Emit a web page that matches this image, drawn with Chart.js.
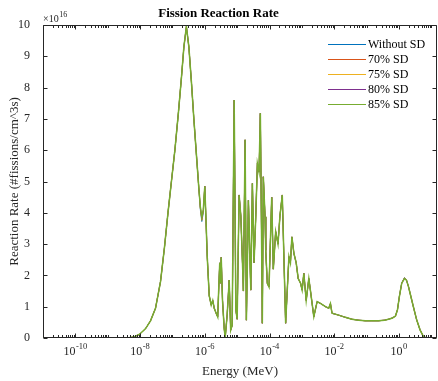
<!DOCTYPE html>
<html><head><meta charset="utf-8">
<script src="https://cdn.jsdelivr.net/npm/chart.js@4.4.0/dist/chart.umd.min.js"></script>
<style>html,body{margin:0;padding:0;background:#fff;overflow:hidden}</style>
</head><body>
<canvas id="c" width="438" height="381"></canvas>
<script>
// Energy grid (MeV)
const energy = [1e-11,5.7e-10,4.1e-9,6.3e-9,9.7e-9,1.48e-8,2.1e-8,3.0e-8,4.28e-8,5.68e-8,7.28e-8,9.3e-8,1.19e-7,1.53e-7,1.89e-7,2.26e-7,2.70e-7,3.22e-7,3.85e-7,4.59e-7,5.47e-7,6.53e-7,7.28e-7,8.09e-7,9.0e-7,1.0e-6,1.07e-6,1.19e-6,1.37e-6,1.58e-6,1.76e-6,1.96e-6,2.26e-6,2.51e-6,2.70e-6,2.90e-6,3.06e-6,3.22e-6,3.53e-6,3.98e-6,4.28e-6,4.92e-6,5.68e-6,6.31e-6,7.01e-6,8.09e-6,9.12e-6,1.0e-5,1.15e-5,1.30e-5,1.46e-5,1.56e-5,1.76e-5,1.93e-5,2.23e-5,2.64e-5,2.96e-5,3.33e-5,3.76e-5,4.22e-5,4.75e-5,5.21e-5,5.6e-5,6.0e-5,6.44e-5,7.28e-5,7.64e-5,8.55e-5,9.66e-5,1.17e-4,1.31e-4,1.55e-4,1.83e-4,2.1e-4,2.48e-4,3.15e-4,3.98e-4,4.43e-4,4.92e-4,5.68e-4,6.68e-4,7.69e-4,9.12e-4,1.02e-3,1.15e-3,1.36e-3,1.64e-3,1.85e-3,2.34e-3,2.96e-3,3.85e-3,5.36e-3,6.78e-3,7.64e-3,8.55e-3,1.37e-2,2.21e-2,3.53e-2,5.68e-2,9.12e-2,0.143,0.234,0.358,0.475,0.631,0.78,0.9,1.04,1.22,1.48,1.70,1.96,2.21,2.79,3.53,4.49,5.68,7.0,15];
// Reaction rate (x 1e16 fissions/cm^3 s)
const withoutSD = [0,0,0,0.03,0.12,0.3,0.55,0.95,1.8,2.9,4.0,5.0,6.0,7.2,8.3,9.3,9.95,9.3,8.2,7.0,5.9,4.8,4.1,3.72,4.0,4.85,4.0,2.6,1.35,1.05,1.2,0.95,0.78,0.67,1.6,2.4,1.75,2.58,1.2,0.3,0.02,0.75,1.85,0.25,0.4,7.6,0.9,0.6,4.57,3.9,2.4,1.5,6.33,0.57,4.4,1.53,4.94,2.4,3.87,5.58,5.3,7.18,3.93,0.47,5.15,3.87,2.8,1.75,1.63,4.5,2.2,3.4,3.0,3.9,4.57,0.47,2.6,2.4,3.23,2.7,2.4,1.9,1.75,1.53,2.07,1.2,1.9,1.5,0.68,1.16,1.1,1.0,0.95,1.1,0.79,0.73,0.66,0.6,0.57,0.55,0.55,0.55,0.57,0.6,0.64,0.7,0.9,1.35,1.76,1.93,1.87,1.66,1.43,1.0,0.58,0.26,0.05,0,0];
const sd70 = [0,0,0,0.03,0.12,0.3,0.55,0.95,1.8,2.9,4.0,5.0,6.0,7.2,8.3,9.3,9.95,9.3,8.2,7.0,5.9,4.8,4.15,3.76,4.05,4.85,4.0,2.6,1.35,1.05,1.2,0.95,0.78,0.67,1.6,2.4,1.75,2.58,1.2,0.3,0.02,0.75,1.85,0.25,0.4,7.6,0.9,0.6,4.57,3.9,2.4,1.5,6.33,0.57,4.4,1.53,4.94,2.4,3.87,5.58,5.3,7.18,3.93,0.47,5.15,3.87,2.8,1.75,1.63,4.5,2.2,3.4,3.0,3.9,4.57,0.47,2.6,2.4,3.23,2.7,2.4,1.9,1.75,1.53,2.07,1.2,1.9,1.5,0.68,1.16,1.1,1.0,0.95,1.1,0.79,0.73,0.66,0.6,0.57,0.55,0.55,0.55,0.57,0.6,0.64,0.7,0.9,1.35,1.75,1.92,1.86,1.65,1.43,1.0,0.58,0.26,0.05,0,0];
const sd75 = [0,0,0,0.03,0.12,0.3,0.55,0.95,1.8,2.9,4.0,5.0,6.0,7.2,8.3,9.3,9.95,9.3,8.2,7.0,5.9,4.8,4.17,3.79,4.07,4.85,4.0,2.6,1.35,1.05,1.2,0.95,0.78,0.67,1.6,2.4,1.75,2.58,1.2,0.3,0.02,0.75,1.85,0.25,0.4,7.6,0.9,0.6,4.57,3.9,2.4,1.5,6.33,0.57,4.4,1.53,4.94,2.4,3.87,5.58,5.3,7.18,3.93,0.47,5.15,3.87,2.8,1.75,1.63,4.5,2.2,3.4,3.0,3.9,4.57,0.47,2.6,2.4,3.23,2.7,2.4,1.9,1.75,1.53,2.07,1.2,1.9,1.5,0.68,1.16,1.1,1.0,0.95,1.1,0.79,0.73,0.66,0.6,0.57,0.55,0.55,0.55,0.57,0.6,0.64,0.7,0.9,1.35,1.75,1.91,1.86,1.65,1.43,1.0,0.58,0.26,0.05,0,0];
const sd80 = [0,0,0,0.03,0.12,0.3,0.55,0.95,1.8,2.9,4.0,5.0,6.0,7.2,8.3,9.3,9.95,9.3,8.2,7.0,5.9,4.8,4.18,3.82,4.08,4.85,4.0,2.6,1.35,1.05,1.2,0.95,0.78,0.67,1.6,2.4,1.75,2.58,1.2,0.3,0.02,0.75,1.85,0.25,0.4,7.6,0.9,0.6,4.57,3.9,2.4,1.5,6.33,0.57,4.4,1.53,4.94,2.4,3.87,5.58,5.3,7.18,3.93,0.47,5.15,3.87,2.8,1.75,1.63,4.5,2.2,3.4,3.0,3.9,4.57,0.47,2.6,2.4,3.23,2.7,2.4,1.9,1.75,1.53,2.07,1.2,1.9,1.5,0.68,1.16,1.1,1.0,0.95,1.1,0.79,0.73,0.66,0.6,0.57,0.55,0.55,0.55,0.57,0.6,0.64,0.7,0.9,1.35,1.75,1.91,1.85,1.65,1.43,1.0,0.58,0.26,0.05,0,0];
const sd85 = [0,0,0,0.03,0.12,0.3,0.55,0.95,1.8,2.9,4.0,5.0,6.0,7.2,8.3,9.3,9.95,9.3,8.2,7.0,5.9,4.8,4.2,3.86,4.1,4.85,4.0,2.6,1.35,1.05,1.2,0.95,0.78,0.67,1.6,2.4,1.75,2.58,1.2,0.3,0.02,0.75,1.85,0.25,0.4,7.6,0.9,0.6,4.57,3.9,2.4,1.5,6.33,0.57,4.4,1.53,4.94,2.4,3.87,5.58,5.3,7.18,3.93,0.47,5.15,3.87,2.8,1.75,1.63,4.5,2.2,3.4,3.0,3.9,4.57,0.47,2.6,2.4,3.23,2.7,2.4,1.9,1.75,1.53,2.07,1.2,1.9,1.5,0.68,1.16,1.1,1.0,0.95,1.1,0.79,0.73,0.66,0.6,0.57,0.55,0.55,0.55,0.57,0.6,0.64,0.7,0.9,1.35,1.75,1.9,1.85,1.65,1.43,1.0,0.58,0.26,0.05,0,0];

const seriesNames = ['Without SD','70% SD','75% SD','80% SD','85% SD'];
const seriesColors = ['#0072BD','#D95319','#EDB120','#7E2F8E','#77AC30'];
const seriesWidths = [0.8, 0.8, 0.8, 0.8, 1.5];
const seriesValues = [withoutSD, sd70, sd75, sd80, sd85];
const xTickValues = [1e-10,1e-8,1e-6,1e-4,1e-2,1];
const xTickBase = '10';
const xTickExponents = ['-10','-8','-6','-4','-2','0'];
const yTickValues = [0,1,2,3,4,5,6,7,8,9,10];
const yExponent = '16';

const SERIF = '"Liberation Serif", "Times New Roman", serif';
const TXT = '#262626';

const decor = {
  id: 'decor',
  afterDatasetsDraw(chart) {
    const {ctx, chartArea: a, scales: {x, y}} = chart;
    ctx.save();
    ctx.strokeStyle = TXT;
    ctx.lineWidth = 1;
    const L = Math.round(a.left) + 0.5, R = Math.round(a.right) - 0.5;
    const T = Math.round(a.top) + 0.5, B = Math.round(a.bottom) - 0.5;
    ctx.beginPath();
    for (let k = -11; k <= 1; k++) {
      for (let m = 1; m <= 9; m++) {
        const v = m * Math.pow(10, k);
        if (v < x.min || v > x.max) continue;
        const px = Math.round(x.getPixelForValue(v)) + 0.5;
        const len = (m === 1 && k % 2 === 0) ? 4 : 2.5;
        ctx.moveTo(px, B); ctx.lineTo(px, B - len);
        ctx.moveTo(px, T); ctx.lineTo(px, T + len);
      }
    }
    for (const v of yTickValues) {
      const py = Math.round(y.getPixelForValue(v)) + 0.5;
      ctx.moveTo(L, py); ctx.lineTo(L + 4, py);
      ctx.moveTo(R, py); ctx.lineTo(R - 4, py);
    }
    ctx.stroke();
    ctx.beginPath();
    ctx.rect(L, T, R - L, B - T);
    ctx.stroke();

    ctx.fillStyle = TXT;
    ctx.textBaseline = 'alphabetic';
    ctx.textAlign = 'left';

    // x tick labels with superscript exponents
    xTickValues.forEach((v, i) => {
      const px = x.getPixelForValue(v);
      ctx.font = '12px ' + SERIF;
      const wb = ctx.measureText(xTickBase).width;
      ctx.font = '8.5px ' + SERIF;
      const we = ctx.measureText(xTickExponents[i]).width;
      const x0 = px - (wb + we + 0.5) / 2;
      ctx.font = '12px ' + SERIF;
      ctx.fillText(xTickBase, x0, a.bottom + 17);
      ctx.font = '8.5px ' + SERIF;
      ctx.fillText(xTickExponents[i], x0 + wb + 0.5, a.bottom + 10.5);
    });

    // exponent label
    ctx.font = '10px ' + SERIF;
    ctx.fillText('\u00D710', a.left, a.top - 3);
    const w = ctx.measureText('\u00D710').width;
    ctx.font = '8px ' + SERIF;
    ctx.fillText(yExponent, a.left + w + 0.5, a.top - 8);

    // legend
    ctx.font = '12px ' + SERIF;
    ctx.textBaseline = 'middle';
    chart.data.datasets.forEach((ds, i) => {
      const yy = 44 + i * 15;
      ctx.strokeStyle = ds.borderColor;
      ctx.lineWidth = 1.2;
      ctx.beginPath();
      ctx.moveTo(328, yy + 0.5); ctx.lineTo(366, yy + 0.5);
      ctx.stroke();
      ctx.fillStyle = '#000';
      ctx.fillText(ds.label, 368, yy + 1);
    });
    ctx.restore();
  }
};

const datasets = seriesNames.map((name, i) => ({
  label: name,
  data: energy.map((e, j) => ({x: e, y: seriesValues[i][j]})),
  borderColor: seriesColors[i],
  backgroundColor: seriesColors[i],
  borderWidth: seriesWidths[i],
  pointRadius: 0,
  tension: 0,
  fill: false,
  order: seriesNames.length - i
}));

new Chart(document.getElementById('c'), {
  type: 'line',
  data: { datasets },
  options: {
    responsive: false,
    animation: false,
    devicePixelRatio: 1,
    layout: { padding: { left: 0, right: 1, top: 0, bottom: 0 } },
    plugins: {
      legend: { display: false },
      tooltip: { enabled: false },
      title: {
        display: true,
        text: 'Fission Reaction Rate',
        color: '#000',
        font: { family: SERIF, size: 13, weight: 'bold' },
        padding: { top: 6, bottom: 3.4 }
      }
    },
    scales: {
      x: {
        type: 'logarithmic',
        min: 1e-11,
        max: 15,
        grid: { display: false },
        border: { display: false },
        afterBuildTicks(s) { s.ticks = xTickValues.map(v => ({ value: v })); },
        afterFit(s) { s.height = 43; s.paddingLeft = 0; s.paddingRight = 0; },
        ticks: {
          autoSkip: false,
          maxRotation: 0,
          padding: 5,
          color: TXT,
          font: { family: SERIF, size: 12 },
          callback() { return ''; }
        },
        title: {
          display: true,
          text: 'Energy (MeV)',
          color: TXT,
          font: { family: SERIF, size: 13 },
          padding: { top: 0, bottom: 2 }
        }
      },
      y: {
        type: 'linear',
        min: 0,
        max: 10,
        grid: { display: false },
        border: { display: false },
        afterBuildTicks(s) { s.ticks = yTickValues.map(v => ({ value: v })); },
        afterFit(s) { s.width = 43; s.paddingTop = 0; s.paddingBottom = 0; },
        ticks: {
          padding: 5,
          color: TXT,
          font: { family: SERIF, size: 12 },
          callback(v) { return String(v); }
        },
        title: {
          display: true,
          text: 'Reaction Rate (#fissions/cm^3s)',
          color: TXT,
          font: { family: SERIF, size: 13 },
          padding: { top: 7, bottom: 0 }
        }
      }
    }
  },
  plugins: [decor]
});
</script>
</body></html>
